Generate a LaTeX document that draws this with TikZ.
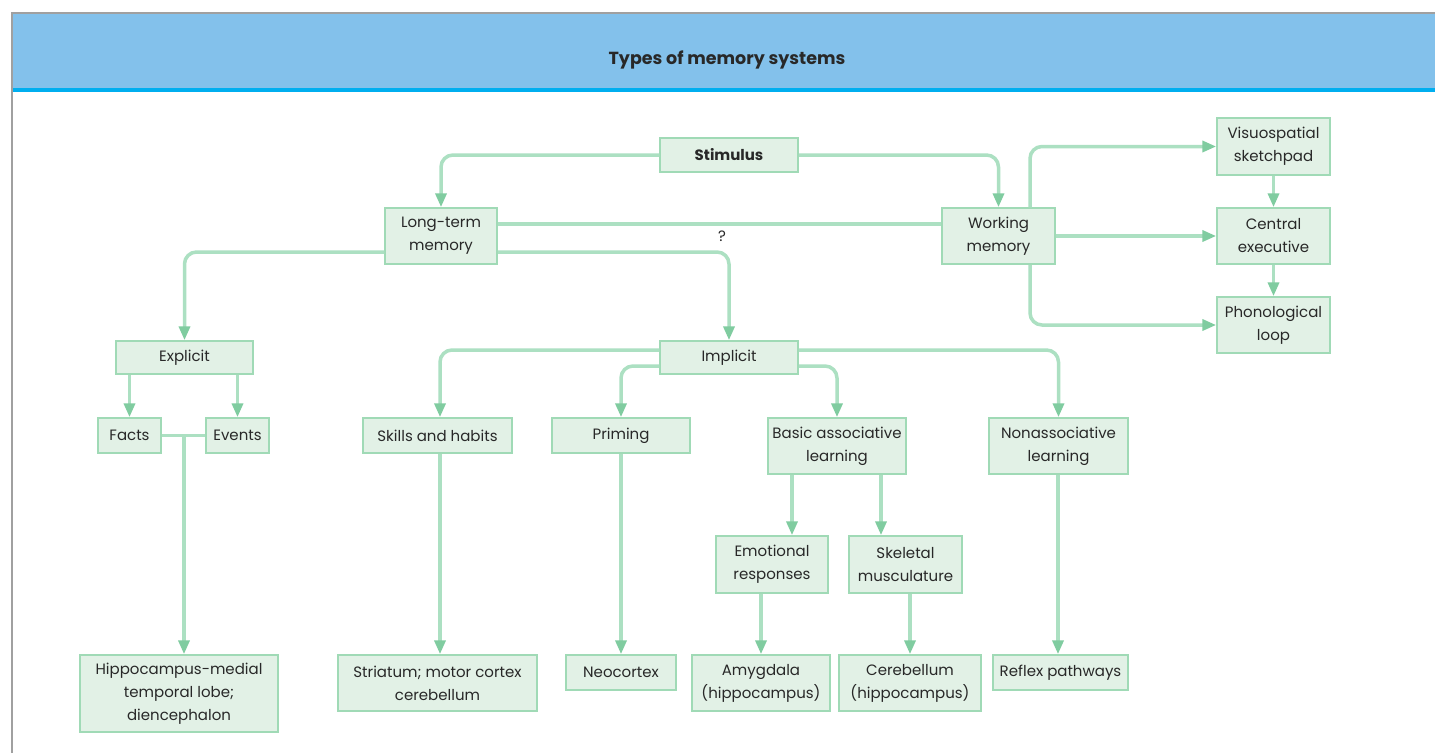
\documentclass[tikz,border=0pt]{standalone}
\usepackage{fontspec}
\setmainfont{Poppins}
\usetikzlibrary{arrows.meta}
\definecolor{hdr}{RGB}{131,193,235}
\definecolor{hdrline}{RGB}{0,174,239}
\definecolor{frame}{RGB}{160,160,160}
\definecolor{boxfill}{RGB}{226,241,230}
\definecolor{boxline}{RGB}{160,218,182}
\definecolor{lineg}{RGB}{172,224,194}
\definecolor{tipg}{RGB}{128,204,160}
\definecolor{txt}{RGB}{40,40,40}
\tikzset{
  box/.style={draw=boxline, line width=1.5pt, fill=boxfill, align=center, inner sep=2pt,
    font=\fontsize{15}{23}\selectfont, text=txt},
  conn/.style={draw=lineg, line width=3.5pt, rounded corners=12pt,
    -{Triangle[length=14pt,width=11pt,color=tipg]}},
  plain/.style={draw=lineg, line width=3.5pt, rounded corners=12pt},
}
\begin{document}
\begin{tikzpicture}[x=1pt,y=-1pt]
\useasboundingbox (0,0) rectangle (1435,753);
\fill[white] (0,0) rectangle (1435,753);
% frame and header
\fill[hdr] (12,13) rectangle (1435,88);
\fill[hdrline] (12,88) rectangle (1435,91.5);
\draw[frame, line width=2pt] (11.5,753) -- (11.5,12.5) -- (1435,12.5);
\node[font=\fontsize{17.5}{20}\selectfont\bfseries, text=txt] (title) at (727,60) {Types of memory systems};

% nodes
\node[box, minimum width=138pt, minimum height=34pt] (stim) at (729,155) {\textbf{Stimulus}};
\node[box, minimum width=112pt, minimum height=56pt] (ltm) at (441,236) {Long-term\\memory};
\node[box, minimum width=113pt, minimum height=56pt] (wm) at (998.5,236) {Working\\memory};
\node[box, minimum width=113pt, minimum height=57pt] (vis) at (1273.5,146.5) {Visuospatial\\sketchpad};
\node[box, minimum width=113pt, minimum height=56pt] (ce) at (1273.5,236) {Central\\executive};
\node[box, minimum width=113pt, minimum height=56pt] (phon) at (1273.5,325) {Phonological\\loop};
\node[box, minimum width=137pt, minimum height=33pt] (expl) at (184.5,357.5) {Explicit};
\node[box, minimum width=138pt, minimum height=33pt] (impl) at (729,357.5) {Implicit};
\node[box, minimum width=63pt, minimum height=35pt] (facts) at (129.5,435.5) {Facts};
\node[box, minimum width=63pt, minimum height=35pt] (events) at (237.5,435.5) {Events};
\node[box, minimum width=149pt, minimum height=35pt] (skills) at (437.5,435.5) {Skills and habits};
\node[box, minimum width=138pt, minimum height=35pt] (prim) at (621,435.5) {Priming};
\node[box, minimum width=138pt, minimum height=56pt] (basic) at (837,446) {Basic associative\\learning};
\node[box, minimum width=139pt, minimum height=56pt] (nonas) at (1058.5,446) {Nonassociative\\learning};
\node[box, minimum width=112pt, minimum height=57pt] (emo) at (772,564.5) {Emotional\\responses};
\node[box, minimum width=113pt, minimum height=57pt] (skel) at (905.5,564.5) {Skeletal\\musculature};
\node[box, minimum width=198pt, minimum height=77pt] (hippo) at (179,693.5) {Hippocampus-medial\\temporal lobe;\\diencephalon};
\node[box, minimum width=199pt, minimum height=56pt] (stri) at (437.5,683) {Striatum; motor cortex\\cerebellum};
\node[box, minimum width=110pt, minimum height=35pt] (neo) at (621,672.5) {Neocortex};
\node[box, minimum width=138pt, minimum height=56pt] (amyg) at (761,683) {Amygdala\\(hippocampus)};
\node[box, minimum width=142pt, minimum height=56pt] (cereb) at (910,683) {Cerebellum\\(hippocampus)};
\node[box, minimum width=135pt, minimum height=35pt] (refl) at (1060.5,672.5) {Reflex pathways};
\node[font=\fontsize{15}{18}\selectfont, text=txt] (q) at (722,236) {?};

\coordinate (fe) at (184,436);
% connectors
\draw[conn] (stim.west) -| (ltm.north);
\draw[conn] (stim.east) -| (wm.north);
\draw[plain, line width=4.5pt] (ltm.east |- 0,224) -- (wm.west |- 0,224);
\draw[conn] (ltm.east |- 0,252) -| (impl.north);
\draw[conn] (ltm.west |- 0,252) -| (expl.north);
\draw[conn] (wm.north -| 1030,0) |- (vis.west);
\draw[conn] (wm.east) -- (ce.west);
\draw[conn] (wm.south -| 1030,0) |- (phon.west);
\draw[conn] (vis.south) -- (ce.north);
\draw[conn] (ce.south) -- (phon.north);
\draw[conn] (expl.south -| facts.center) -- (facts.north);
\draw[conn] (expl.south -| events.center) -- (events.north);
\draw[plain] (facts.east) -- (events.west);
\draw[conn] (fe) -- (fe |- hippo.north);
\draw[conn] (impl.west |- 0,350) -| (skills.north -| 440,0);
\draw[conn] (impl.west |- 0,366) -| (prim.north);
\draw[conn] (impl.east |- 0,366) -| (basic.north);
\draw[conn] (impl.east |- 0,350) -| (nonas.north);
\draw[conn] (skills.south -| 440,0) -- (stri.north -| 440,0);
\draw[conn] (prim.south) -- (neo.north);
\draw[conn] (basic.south -| 792,0) -- (emo.north -| 792,0);
\draw[conn] (basic.south -| 881,0) -- (skel.north -| 881,0);
\draw[conn] (emo.south -| 761,0) -- (amyg.north);
\draw[conn] (skel.south -| 910,0) -- (cereb.north);
\draw[conn] (nonas.south -| 1058,0) -- (refl.north -| 1058,0);
\end{tikzpicture}
\end{document}
